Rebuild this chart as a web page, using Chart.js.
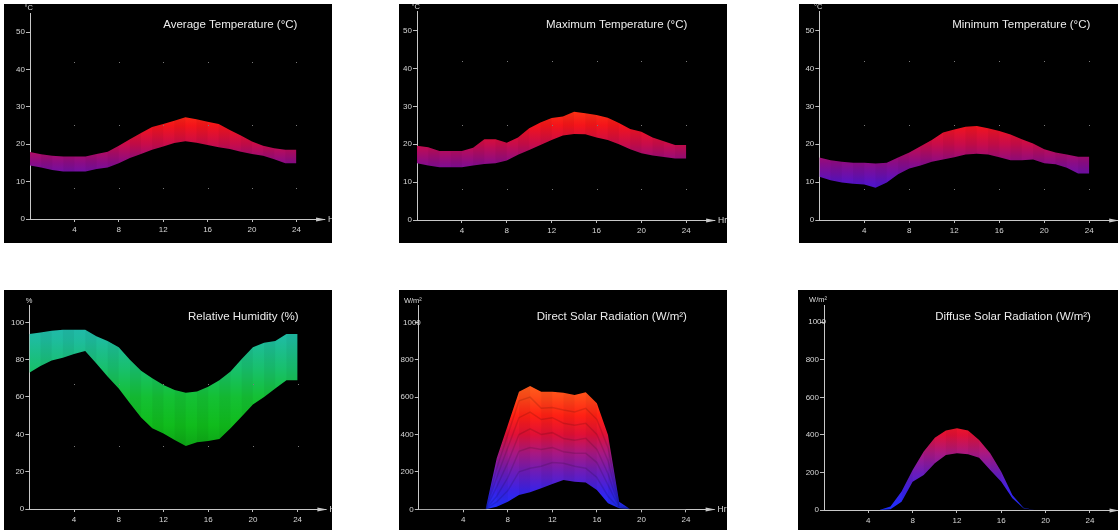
<!DOCTYPE html>
<html>
<head>
<meta charset="utf-8">
<script src="https://cdn.jsdelivr.net/npm/chart.js@4.4.1/dist/chart.umd.min.js"></script>
<style>
html, body { margin: 0; padding: 0; background: #fff; width: 1118px; height: 530px; overflow: hidden; }
.panel { position: absolute; background: #000; }
canvas { display: block; }
</style>
</head>
<body>
<div class="panel" style="left:4px;top:4px"><canvas id="avgTemp" width="328" height="239"></canvas></div>
<div class="panel" style="left:399px;top:4px"><canvas id="maxTemp" width="328" height="239"></canvas></div>
<div class="panel" style="left:799px;top:4px"><canvas id="minTemp" width="320" height="239"></canvas></div>
<div class="panel" style="left:4px;top:290px"><canvas id="humidity" width="328" height="240"></canvas></div>
<div class="panel" style="left:399px;top:290px"><canvas id="direct" width="328" height="240"></canvas></div>
<div class="panel" style="left:798px;top:290px"><canvas id="diffuse" width="320" height="240"></canvas></div>
<script>
// hours of the day, one value per hour
const hours = [0,1,2,3,4,5,6,7,8,9,10,11,12,13,14,15,16,17,18,19,20,21,22,23,24];
const hourTicks = [4,8,12,16,20,24];

// temperatures (°C): upper and lower edge of each band
const avgTempHigh = [17.9,17.3,16.9,16.7,16.7,16.7,17.4,18.0,19.6,21.3,23.0,24.6,25.4,26.3,27.2,26.7,26.0,25.4,23.8,22.3,20.7,19.6,18.9,18.5,18.5];
const avgTempLow  = [14.3,13.8,13.1,12.7,12.7,12.7,13.4,13.8,14.9,16.3,17.4,18.5,19.4,20.3,20.8,20.4,19.8,19.2,18.7,18.0,17.4,16.9,16.0,14.9,14.9];
const maxTempHigh = [19.6,19.2,18.2,18.2,18.2,19.1,21.3,21.3,20.4,21.8,24.2,25.7,26.9,27.3,28.6,28.2,27.7,27.0,25.6,24.0,23.3,21.8,20.8,19.8,19.8];
const maxTempLow  = [15.0,14.4,13.9,13.9,13.9,14.4,14.8,15.0,15.7,17.2,18.5,19.8,21.1,22.3,22.7,22.6,21.8,21.1,20.0,18.7,17.6,17.0,16.6,16.2,16.2];
const minTempHigh = [16.5,15.8,15.4,15.1,15.1,14.9,15.1,16.5,17.8,19.5,21.1,23.1,23.9,24.6,24.8,24.2,23.5,22.6,21.3,20.2,18.7,17.8,17.3,16.7,16.7];
const minTempLow  = [11.4,10.5,9.9,9.6,9.4,8.5,9.9,12.1,13.6,14.4,15.4,16.0,16.6,17.3,17.5,17.3,16.6,15.8,15.8,16.0,15.0,14.7,13.8,12.3,12.3];

// relative humidity (%)
const humHigh = [93.8,94.6,95.5,96,96,96,92.5,90,86.6,80,74,70,66.4,63.8,62.3,62.9,65.5,69,73.6,80.3,86.6,89,90,93.8,93.8];
const humLow  = [73,76.6,79.5,81,83,84.6,78,71,64.6,56.6,49,43.2,40.5,37,33.8,35.7,36.4,37.5,43.2,49.5,56,60,64.6,69,69];

// direct solar radiation (W/m²): envelope plus the layers inside it
const directHigh = [0,0,0,0,0,0,0,273,451,629,660,629,629,624,611,626,567,397,41,0,0,0,0,0,0];
const directL1   = [0,0,0,0,0,0,0,220,400,580,600,540,545,531,520,540,480,330,30,0,0,0,0,0,0];
const directL2   = [0,0,0,0,0,0,0,170,330,490,520,480,490,460,450,460,400,260,20,0,0,0,0,0,0];
const directL3   = [0,0,0,0,0,0,0,120,250,400,430,400,410,379,370,380,320,190,15,0,0,0,0,0,0];
const directL4   = [0,0,0,0,0,0,0,70,170,310,330,320,330,308,300,300,250,130,10,0,0,0,0,0,0];
const directL5   = [0,0,0,0,0,0,0,40,100,200,220,230,250,246,230,220,170,70,5,0,0,0,0,0,0];
const directLow  = [0,0,0,0,0,0,0,14,41,77,91,112,135,157,148,144,103,32,5,0,0,0,0,0,0];

// diffuse solar radiation (W/m²)
const diffuseHigh = [0,0,0,0,0,0,18,98,213,311,385,423,435,423,373,302,204,80,12,0,0,0,0,0,0];
const diffuseLow  = [0,0,0,0,0,0,4,44,151,187,249,293,302,297,279,213,151,62,9,0,0,0,0,0,0];

// colour ramps, value -> colour
const tempColors = [[5,'#3418e6'],[10,'#5812c2'],[15,'#8a0c86'],[20,'#c80c4a'],[25,'#f4141a'],[30,'#ff3c10'],[40,'#ff7800']];
const radColors = [[0,'#1c30ff'],[100,'#3a22e6'],[200,'#6c1cb8'],[300,'#a81882'],[400,'#e01036'],[500,'#ff2014'],[600,'#ff4a18'],[700,'#ff6a20']];
const humColors = [[30,'#0c9e14'],[45,'#10bc1c'],[60,'#14c034'],[75,'#18c06c'],[90,'#1ebc9c'],[100,'#22b8b0']];

const FONT = '"Liberation Sans", Arial, sans-serif';

function pts(values) {
    return values.map((v, i) => ({x: hours[i], y: v}));
}

function ramp(stops) {
    return (c) => {
        let chart = c.chart;
        if (!chart.chartArea) return null;
        let y = chart.scales.y;
        let v0 = stops[0][0], v1 = stops[stops.length - 1][0];
        let g = chart.ctx.createLinearGradient(0, y.getPixelForValue(v0), 0, y.getPixelForValue(v1));
        stops.forEach(([v, col]) => g.addColorStop((v - v0) / (v1 - v0), col));
        return g;
    };
}

// axis arrow, unit, title, dotted back grid and the faint facet shading
const decor = {
    id: 'decor',
    beforeDatasetsDraw(chart, args, o) {
        let {ctx} = chart;
        let x = chart.scales.x, y = chart.scales.y;
        ctx.save();
        ctx.fillStyle = '#7a7a7a';
        o.dots.forEach(v => hourTicks.forEach(h => {
            ctx.fillRect(Math.round(x.getPixelForValue(h)), Math.round(y.getPixelForValue(v)), 1, 1);
        }));
        ctx.restore();
    },
    afterDatasetsDraw(chart) {
        // every other hour facet a touch darker, like the 3D surface
        let {ctx} = chart;
        let low = chart.getDatasetMeta(0).data, high = chart.getDatasetMeta(1).data;
        ctx.save();
        ctx.fillStyle = 'rgba(0,0,0,0.045)';
        for (let i = 1; i < high.length - 1; i += 2) {
            ctx.beginPath();
            ctx.moveTo(high[i].x, high[i].y);
            ctx.lineTo(high[i + 1].x, high[i + 1].y);
            ctx.lineTo(low[i + 1].x, low[i + 1].y);
            ctx.lineTo(low[i].x, low[i].y);
            ctx.closePath();
            ctx.fill();
        }
        ctx.restore();
    },
    afterDraw(chart, args, o) {
        let {ctx, chartArea: a} = chart;
        let x = chart.scales.x, y = chart.scales.y;
        let yb = Math.round(a.bottom) + 0.5;
        ctx.save();
        ctx.strokeStyle = '#c8c8c8';
        ctx.fillStyle = '#c8c8c8';
        ctx.lineWidth = 1;
        ctx.beginPath();
        ctx.moveTo(a.right, yb);
        ctx.lineTo(a.right + 12, yb);
        ctx.stroke();
        ctx.beginPath();
        ctx.moveTo(a.right + 3, yb - 2);
        ctx.lineTo(a.right + 13, yb);
        ctx.lineTo(a.right + 3, yb + 2);
        ctx.closePath();
        ctx.fill();
        ctx.fillStyle = '#dadada';
        ctx.font = '8.5px ' + FONT;
        ctx.textBaseline = 'middle';
        ctx.textAlign = 'left';
        ctx.fillText('Hr', a.right + 15, yb);
        // the widest tick label does not fit left of the axis and runs over it
        if (o.wideTick) {
            ctx.font = '8px ' + FONT;
            ctx.textAlign = 'right';
            ctx.fillText(String(o.wideTick), a.left + 2, y.getPixelForValue(o.wideTick));
        }
        ctx.font = '7.5px ' + FONT;
        ctx.textAlign = 'right';
        ctx.fillText(o.unit, a.left + 3, a.top - 5);
        ctx.font = '11.5px ' + FONT;
        ctx.fillStyle = '#ececec';
        ctx.fillText(o.title, x.getPixelForValue(24) + 1, o.titleY);
        ctx.restore();
    }
};

function panel(id, p) {
    let canvas = document.getElementById(id);
    let right = p.axisX + 25.5 * p.pxHr;
    let datasets = [
        {data: pts(p.low), fill: false},
        {data: pts(p.high), fill: '-1', backgroundColor: ramp(p.colors)}
    ];
    (p.layers || []).forEach(l => datasets.push({
        data: pts(l), fill: false, borderColor: 'rgba(0,0,0,0.13)', borderWidth: 1.5
    }));
    datasets.forEach(d => {
        d.pointRadius = 0;
        d.tension = 0;
        if (!d.borderWidth) { d.borderWidth = 0; d.borderColor = 'rgba(0,0,0,0)'; }
    });

    new Chart(canvas.getContext('2d'), {
        type: 'line',
        data: {datasets: datasets},
        plugins: [decor],
        options: {
            responsive: false,
            animation: false,
            layout: {padding: {left: 0, top: p.topY, right: canvas.width - right, bottom: 0}},
            plugins: {
                legend: {display: false},
                tooltip: {enabled: false},
                filler: {drawTime: 'beforeDatasetsDraw'},
                decor: {title: p.title, unit: p.unit, titleY: p.titleY, dots: p.dots, wideTick: p.wideTick}
            },
            scales: {
                x: {
                    type: 'linear', min: 0, max: 25.5,
                    afterFit: s => { s.height = canvas.height - p.axisY; },
                    afterBuildTicks: s => { s.ticks = hourTicks.map(h => ({value: h})); },
                    ticks: {color: '#d6d6d6', font: {family: FONT, size: 8}, padding: 3, maxRotation: 0,
                            callback: v => String(v)},
                    grid: {display: true, drawOnChartArea: false, drawTicks: true, tickLength: 3, color: '#bdbdbd'},
                    border: {display: true, color: '#c8c8c8', width: 1}
                },
                y: {
                    type: 'linear', min: 0, max: p.yMax,
                    afterFit: s => { s.width = p.axisX; },
                    afterBuildTicks: s => { s.ticks = p.yTicks.map(v => ({value: v})); },
                    ticks: {color: '#d6d6d6', font: {family: FONT, size: 8}, padding: 1,
                            callback: v => (v === p.wideTick ? '' : String(v))},
                    grid: {display: true, drawOnChartArea: false, drawTicks: true, tickLength: 4, color: '#bdbdbd'},
                    border: {display: true, color: '#c8c8c8', width: 1}
                }
            }
        }
    });
}

const tempTicks = [0,10,20,30,40,50];
const radTicks = [0,200,400,600,800,1000];

panel('avgTemp', {
    title: 'Average Temperature (°C)', unit: '°C', high: avgTempHigh, low: avgTempLow, colors: tempColors,
    axisX: 26, axisY: 215, topY: 9.3, pxHr: 11.1, yMax: 55, yTicks: tempTicks, titleY: 21, dots: [8.2, 25, 42]
});
panel('maxTemp', {
    title: 'Maximum Temperature (°C)', unit: '°C', high: maxTempHigh, low: maxTempLow, colors: tempColors,
    axisX: 18, axisY: 216, topY: 7.6, pxHr: 11.22, yMax: 55, yTicks: tempTicks, titleY: 21, dots: [8.2, 25, 42]
});
panel('minTemp', {
    title: 'Minimum Temperature (°C)', unit: '°C', high: minTempHigh, low: minTempLow, colors: tempColors,
    axisX: 20.3, axisY: 216, topY: 7.7, pxHr: 11.25, yMax: 55, yTicks: tempTicks, titleY: 21, dots: [8.2, 25, 42]
});
panel('humidity', {
    title: 'Relative Humidity (%)', unit: '%', high: humHigh, low: humLow, colors: humColors,
    axisX: 25.3, axisY: 219, topY: 15.5, pxHr: 11.18, yMax: 109, yTicks: [0,20,40,60,80,100], titleY: 27, dots: [34, 67]
});
panel('direct', {
    title: 'Direct Solar Radiation (W/m²)', unit: 'W/m²', high: directHigh, low: directLow, colors: radColors,
    layers: [directL1, directL2, directL3, directL4, directL5], wideTick: 1000,
    axisX: 19.8, axisY: 219.3, topY: 15.5, pxHr: 11.13, yMax: 1090, yTicks: radTicks, titleY: 27, dots: []
});
panel('diffuse', {
    title: 'Diffuse Solar Radiation (W/m²)', unit: 'W/m²', high: diffuseHigh, low: diffuseLow, colors: radColors,
    wideTick: 1000,
    axisX: 26, axisY: 220, topY: 15.4, pxHr: 11.08, yMax: 1090, yTicks: radTicks, titleY: 27, dots: []
});
</script>
</body>
</html>
